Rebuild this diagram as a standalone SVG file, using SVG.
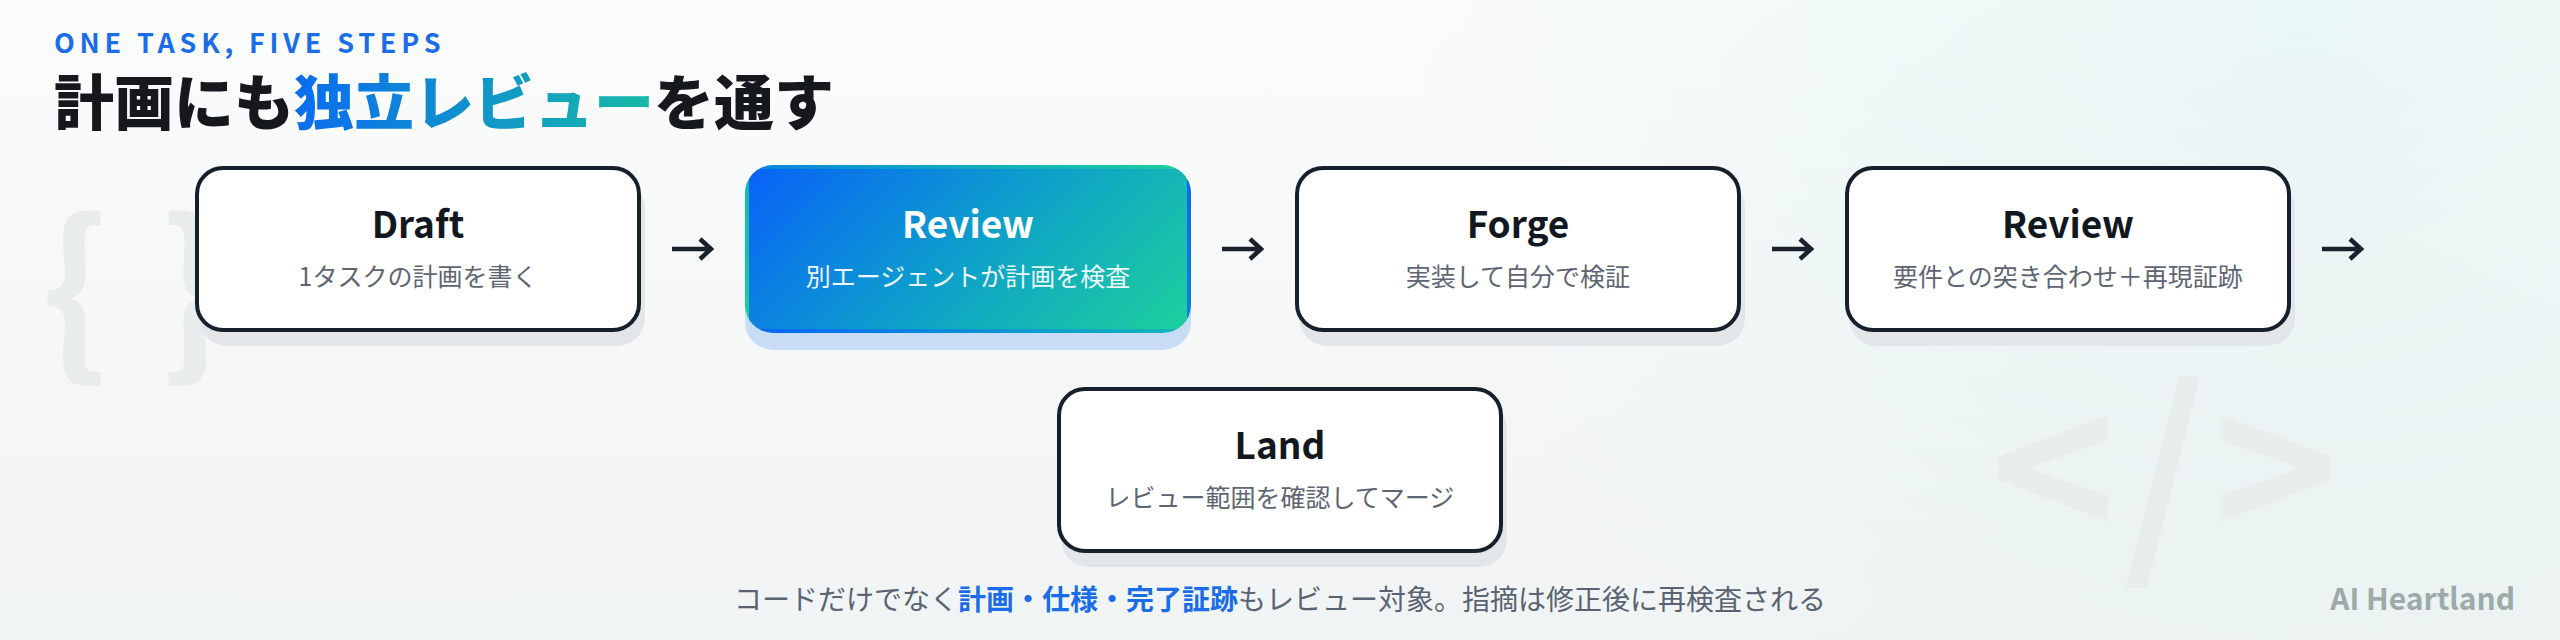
<svg xmlns="http://www.w3.org/2000/svg" width="2560" height="640" viewBox="0 0 2560 640">
  <defs>
    <linearGradient id="bgV" x1="0" y1="0" x2="0" y2="1">
      <stop offset="0" stop-color="#fbfcfc"/>
      <stop offset="1" stop-color="#f1f4f4"/>
    </linearGradient>
    <radialGradient id="bgGlow" cx="2300" cy="0" r="900" gradientUnits="userSpaceOnUse">
      <stop offset="0" stop-color="#14b8a6" stop-opacity="0.08"/>
      <stop offset="1" stop-color="#14b8a6" stop-opacity="0"/>
    </radialGradient>
    <linearGradient id="titleGrad" x1="294" y1="0" x2="654" y2="0" gradientUnits="userSpaceOnUse">
      <stop offset="0" stop-color="#0a6cf0"/>
      <stop offset="1" stop-color="#17baa6"/>
    </linearGradient>
    <linearGradient id="revGrad" x1="69.5" y1="-69.5" x2="368.5" y2="229.5" gradientUnits="userSpaceOnUse">
      <stop offset="0" stop-color="#0862f8"/>
      <stop offset="0.5" stop-color="#0d9fcb"/>
      <stop offset="1" stop-color="#1dd09c"/>
    </linearGradient>
    <pattern id="revPat" patternUnits="userSpaceOnUse" x="749" y="169" width="438" height="160">
      <rect x="0" y="0" width="438" height="160" fill="url(#revGrad)"/>
    </pattern>
  </defs>
  <style>
    .f { font-family: "Noto Sans CJK JP", "Noto Sans", sans-serif; }
    .deco { font-family: "Noto Sans CJK JP", "Noto Sans", sans-serif; font-weight: 700; fill: #e9ecec; }
    .box { fill: #ffffff; stroke: #16202c; stroke-width: 4; }
    .shadow { fill: #e3e6e9; }
    .ttl { font-family: "Noto Sans CJK JP", "Noto Sans", sans-serif; font-weight: 700; font-size: 37px; fill: #121820; text-anchor: middle; }
    .sub { font-family: "Noto Sans CJK JP", "Noto Sans", sans-serif; font-size: 25px; fill: #5d6572; text-anchor: middle; }
    .arrow { fill: none; stroke: #19212d; stroke-width: 4.5; stroke-linecap: butt; stroke-linejoin: miter; }
  </style>

  <!-- background -->
  <rect x="0" y="0" width="2560" height="640" fill="url(#bgV)"/>
  <rect x="0" y="0" width="2560" height="640" fill="url(#bgGlow)"/>

  <!-- decorations -->
  <text class="deco" x="41" y="355" font-size="180" letter-spacing="5">{ }</text>
  <text class="deco" x="1990" y="549" font-size="215" letter-spacing="6">&lt;/&gt;</text>

  <!-- header -->
  <text class="f" x="54" y="53" font-size="27" font-weight="700" fill="#1a6de6" letter-spacing="4.8">ONE TASK, FIVE STEPS</text>
  <text class="f" x="54" y="125" font-size="60" font-weight="900" fill="#15181d">計画にも<tspan fill="url(#titleGrad)">独立レビュー</tspan>を通す</text>

  <!-- connectors -->
  <g id="connectors">
    <path class="arrow" d="M672 249 H710 M700 239 L711 249 L700 259"/>
    <path class="arrow" d="M1222 249 H1260 M1250 239 L1261 249 L1250 259"/>
    <path class="arrow" d="M1772 249 H1810 M1800 239 L1811 249 L1800 259"/>
    <path class="arrow" d="M2322 249 H2360 M2350 239 L2361 249 L2350 259"/>
  </g>

  <!-- nodes -->
  <g id="draft">
    <rect class="shadow" x="199" y="180" width="446" height="166" rx="28"/>
    <rect class="box" x="197" y="168" width="442" height="162" rx="26"/>
    <text class="ttl" x="418" y="238">Draft</text>
    <text class="sub" x="418" y="286">1タスクの計画を書く</text>
  </g>

  <g id="review-plan">
    <rect x="745" y="182" width="446" height="168" rx="28" fill="#c8dcf6"/>
    <rect x="745" y="165" width="446" height="168" rx="28" fill="url(#revPat)"/>
    <text class="ttl" x="968" y="238" style="fill:#ffffff">Review</text>
    <text class="sub" x="968" y="286" style="fill:#eef7ff">別エージェントが計画を検査</text>
  </g>

  <g id="forge">
    <rect class="shadow" x="1299" y="180" width="446" height="166" rx="28"/>
    <rect class="box" x="1297" y="168" width="442" height="162" rx="26"/>
    <text class="ttl" x="1518" y="238">Forge</text>
    <text class="sub" x="1518" y="286">実装して自分で検証</text>
  </g>

  <g id="review-impl">
    <rect class="shadow" x="1849" y="180" width="446" height="166" rx="28"/>
    <rect class="box" x="1847" y="168" width="442" height="162" rx="26"/>
    <text class="ttl" x="2068" y="238">Review</text>
    <text class="sub" x="2068" y="286">要件との突き合わせ＋再現証跡</text>
  </g>

  <g id="land">
    <rect class="shadow" x="1061" y="401" width="446" height="166" rx="28"/>
    <rect class="box" x="1059" y="389" width="442" height="162" rx="26"/>
    <text class="ttl" x="1280" y="459">Land</text>
    <text class="sub" x="1280" y="507">レビュー範囲を確認してマージ</text>
  </g>

  <!-- caption -->
  <text class="f" x="1280" y="610" font-size="28" fill="#5a6371" text-anchor="middle">コードだけでなく<tspan font-weight="700" fill="#1a6de6">計画・仕様・完了証跡</tspan>もレビュー対象。指摘は修正後に再検査される</text>

  <text class="f" x="2515" y="610" font-size="30" font-weight="700" fill="#9cabaa" text-anchor="end">AI Heartland</text>
</svg>
